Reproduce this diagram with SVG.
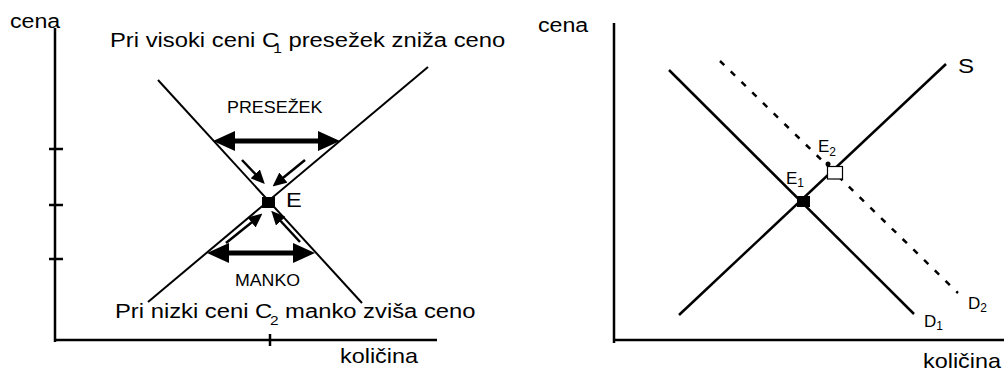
<svg xmlns="http://www.w3.org/2000/svg" width="1004" height="371" viewBox="0 0 1004 371">
  <style>
    .lbl { font-family: "Liberation Sans", Arial, sans-serif; fill: #000; }
    .big { font-size: 20px; }
    .small { font-size: 16px; }
    .mid { font-size: 17px; }
    .axis { stroke: #000; stroke-width: 2.5; fill: none; }
    .curve { stroke: #000; stroke-width: 2; fill: none; }
    .curve2 { stroke: #000; stroke-width: 2.5; fill: none; }
    .dash { stroke: #000; stroke-width: 2.5; fill: none; stroke-dasharray: 6 9; }
    .wide { stroke: #000; stroke-width: 5; fill: none; }
    .thin { stroke: #000; stroke-width: 2.5; fill: none; }
  </style>
  <defs>
    <marker id="bigHead" viewBox="0 0 22 20" markerWidth="22" markerHeight="20" refX="10" refY="10" markerUnits="userSpaceOnUse" orient="auto-start-reverse">
      <path d="M0,0 L22,10 L0,20 z" fill="#000"/>
    </marker>
    <marker id="smallHead" viewBox="0 0 14 13" markerWidth="14" markerHeight="13" refX="7" refY="6.5" markerUnits="userSpaceOnUse" orient="auto">
      <path d="M0,0 L14,6.5 L0,13 z" fill="#000"/>
    </marker>
  </defs>

  <!-- left chart: market adjustment toward equilibrium -->
  <g id="left-axes">
    <line class="axis" x1="55" y1="28" x2="55" y2="342"/>
    <line class="axis" x1="54" y1="340" x2="437" y2="340"/>
    <line class="axis" x1="49" y1="149" x2="63" y2="149"/>
    <line class="axis" x1="49" y1="205" x2="63" y2="205"/>
    <line class="axis" x1="49" y1="259" x2="63" y2="259"/>
    <line class="axis" x1="270" y1="334" x2="270" y2="346"/>
    <text class="lbl big" transform="translate(10 28) scale(1.16 1)">cena</text>
    <text class="lbl big" transform="translate(340 363) scale(1.17 1)">količina</text>
  </g>

  <g id="left-demand">
    <line class="curve" x1="158" y1="80" x2="362" y2="303"/>
  </g>
  <g id="left-supply">
    <line class="curve" x1="428" y1="67" x2="148" y2="302"/>
  </g>

  <g id="left-equilibrium">
    <rect x="262" y="197" width="13" height="11" fill="#000"/>
    <text class="lbl big" transform="translate(286 207) scale(1.18 1)">E</text>
  </g>

  <g id="label-high-price">
    <text class="lbl big" transform="translate(110 47) scale(1.19 1)">Pri visoki ceni C<tspan font-size="13" dx="-5" dy="6">1</tspan><tspan dy="-6"> presežek zniža ceno</tspan></text>
  </g>
  <g id="label-low-price">
    <text class="lbl big" transform="translate(115 318) scale(1.19 1)">Pri nizki ceni C<tspan font-size="13" dx="-2" dy="7">2</tspan><tspan dy="-7"> manko zviša ceno</tspan></text>
  </g>

  <g id="surplus">
    <text class="lbl small" transform="translate(227 113) scale(1.12 1)">PRESEŽEK</text>
  </g>
  <g id="shortage">
    <text class="lbl small" transform="translate(235 286) scale(1.11 1)">MANKO</text>
  </g>

  <g id="left-arrows">
    <line class="wide" x1="225" y1="141" x2="328" y2="141" marker-start="url(#bigHead)" marker-end="url(#bigHead)"/>
    <line class="wide" x1="219" y1="253" x2="303" y2="253" marker-start="url(#bigHead)" marker-end="url(#bigHead)"/>
    <line class="thin" x1="242" y1="160" x2="260" y2="179" marker-end="url(#smallHead)"/>
    <line class="thin" x1="305" y1="160" x2="278" y2="182" marker-end="url(#smallHead)"/>
    <line class="thin" x1="226" y1="243" x2="257" y2="218" marker-end="url(#smallHead)"/>
    <line class="thin" x1="300" y1="242" x2="276" y2="216" marker-end="url(#smallHead)"/>
  </g>

  <!-- right chart: demand shift -->
  <g id="right-axes">
    <line class="axis" x1="614" y1="23" x2="614" y2="343"/>
    <line class="axis" x1="613" y1="340" x2="1004" y2="340"/>
    <text class="lbl big" transform="translate(538 32) scale(1.16 1)">cena</text>
    <text class="lbl big" transform="translate(923 368) scale(1.17 1)">količina</text>
  </g>

  <g id="supply-S">
    <line class="curve2" x1="946" y1="64" x2="679" y2="315"/>
    <text class="lbl" font-size="21" transform="translate(958 73) scale(1.15 1)">S</text>
  </g>
  <g id="demand-D1">
    <line class="curve2" x1="669" y1="70" x2="914" y2="314"/>
    <text class="lbl mid" x="924" y="327">D<tspan font-size="12" dy="3">1</tspan></text>
  </g>
  <g id="demand-D2">
    <line class="dash" x1="720" y1="61" x2="958" y2="293"/>
    <text class="lbl mid" x="968" y="309">D<tspan font-size="12" dy="3">2</tspan></text>
  </g>

  <g id="point-E1">
    <rect x="797" y="196" width="13" height="11" fill="#000"/>
    <text class="lbl mid" x="786" y="184">E<tspan font-size="12" dy="3">1</tspan></text>
  </g>
  <g id="point-E2">
    <rect x="827.5" y="166.5" width="15" height="12.5" fill="#fff" stroke="#000" stroke-width="1.2"/>
    <circle cx="828" cy="164" r="2.5" fill="#000"/>
    <text class="lbl mid" x="818" y="152">E<tspan font-size="12" dy="4">2</tspan></text>
  </g>
</svg>
